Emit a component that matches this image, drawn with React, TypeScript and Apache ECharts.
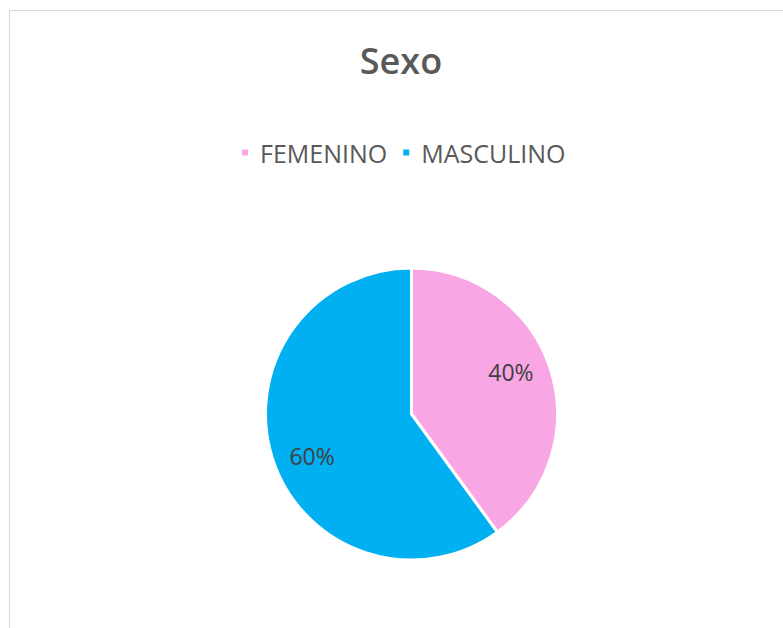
import React, { useEffect, useRef } from "react";
import * as echarts from "echarts";

const titleText = "Sexo";
const categories = ["FEMENINO", "MASCULINO"];
const values = [40, 60];
const colors = ["#F9A6E4", "#00B0F0"];

export default function App() {
  const ref = useRef<HTMLDivElement>(null);
  useEffect(() => {
    if (!ref.current) return;
    const chart = echarts.init(ref.current, undefined, { renderer: "svg" });
    const data = categories.map((name, i) => ({
      name,
      value: values[i],
      itemStyle: { color: colors[i] },
    }));
    const overlayData = categories.map((name, i) => ({
      name,
      value: values[i],
    }));
    chart.setOption({
      animation: false,
      backgroundColor: "#ffffff",
      title: {
        text: titleText,
        left: 391,
        textAlign: "center",
        top: 31,
        padding: 0,
        textStyle: {
          fontFamily: "Open Sans",
          fontSize: 36,
          fontWeight: 600,
          color: "#595959",
        },
      },
      legend: {
        data: categories,
        left: 225,
        top: 124,
        icon: "rect",
        itemWidth: 8,
        itemHeight: 8,
        itemGap: 14,
        textStyle: {
          fontFamily: "Open Sans",
          fontSize: 25,
          color: "#595959",
          padding: [0, 0, 0, 6],
        },
      },
      series: [
        {
          type: "pie",
          center: [401.5, 403],
          radius: [0, 146],
          startAngle: 90,
          clockwise: true,
          silent: true,
          label: { show: false },
          labelLine: { show: false },
          itemStyle: { borderColor: "#ffffff", borderWidth: 3 },
          data,
        },
        {
          type: "pie",
          center: [401.5, 403],
          radius: [0, 210],
          startAngle: 95,
          clockwise: true,
          silent: true,
          itemStyle: { color: "rgba(0,0,0,0)" },
          label: {
            show: true,
            position: "inner",
            formatter: "{d}%",
            fontFamily: "Open Sans",
            fontSize: 23,
            color: "#404040",
          },
          labelLine: { show: false },
          data: overlayData,
        },
      ],
    });
    return () => chart.dispose();
  }, []);
  return (
    <div
      style={{
        position: "fixed",
        left: 9,
        top: 10,
        width: 800,
        height: 640,
        border: "1px solid #d9d9d9",
        boxSizing: "border-box",
        background: "#ffffff",
      }}
    >
      <div ref={ref} style={{ width: 798, height: 638 }} />
    </div>
  );
}
